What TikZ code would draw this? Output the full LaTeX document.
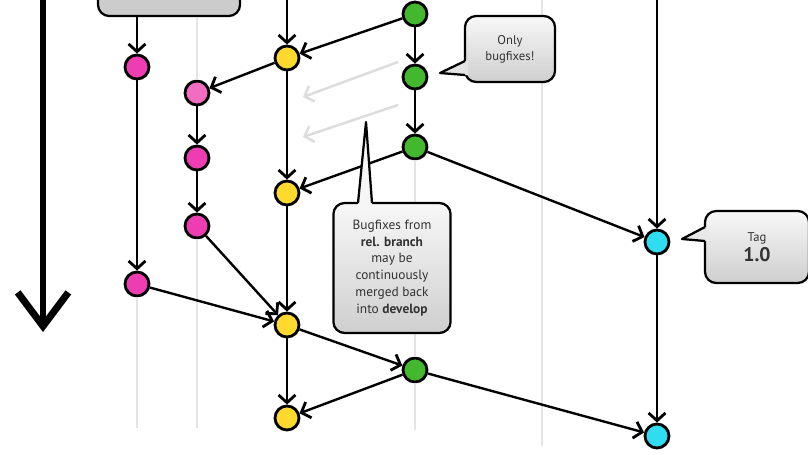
\documentclass[tikz,border=0pt]{standalone}
\usepackage{fontspec}
\setmainfont{PT Sans}
\usetikzlibrary{arrows.meta}

\definecolor{hotpink}{HTML}{EE3DB3}
\definecolor{featpink}{HTML}{F26CC2}
\definecolor{devyellow}{HTML}{FFD92E}
\definecolor{relgreen}{HTML}{43B82E}
\definecolor{tagcyan}{HTML}{30DDF0}
\definecolor{lanegray}{HTML}{E4E4E4}
\definecolor{ghostgray}{HTML}{DDDDDD}

\tikzset{
  commit/.style={circle, draw=black, line width=2pt, minimum size=0.6cm, inner sep=0pt},
  flow/.style={line width=1.7pt, -{Straight Barb[length=5.5pt,width=12pt,line width=2pt]}},
  lane/.style={lanegray, line width=2pt},
  ghost/.style={ghostgray, line width=1.8pt, -{Straight Barb[length=5.5pt,width=12pt,line width=1.8pt]}},
  note/.style={draw, line width=1.6pt, rounded corners=8pt, top color=gray!6, bottom color=gray!38,
    align=center, text=black!80, inner sep=2pt},
}

\begin{document}
\begin{tikzpicture}[x=0.025cm,y=-0.025cm]
\useasboundingbox (0,0) rectangle (808,454);
\clip (0,0) rectangle (808,454);

\coordinate (timetop) at (43,0);
\coordinate (timeend) at (43,332);
\draw[line width=4.5pt, -{Straight Barb[length=24pt,width=36pt,line width=5pt]}] (timetop) -- (timeend);

\node[note, fill=gray!40, top color=gray!40, bottom color=gray!40, minimum width=3.55cm, minimum height=1.65cm] (oldnote) at (169,-17) {};

\node[commit, fill=hotpink] (hot0) at (137,67) {};
\node[commit, fill=hotpink] (hot1) at (137,284) {};
\node[commit, fill=featpink] (feat0) at (197,93) {};
\node[commit, fill=hotpink] (feat1) at (197,158) {};
\node[commit, fill=hotpink] (feat2) at (197,226) {};
\node[commit, fill=devyellow] (dev0) at (287,58) {};
\node[commit, fill=devyellow] (dev1) at (287,193) {};
\node[commit, fill=devyellow] (dev2) at (287,325) {};
\node[commit, fill=devyellow] (dev3) at (287,418) {};
\node[commit, fill=relgreen] (rel0) at (415,14) {};
\node[commit, fill=relgreen] (rel1) at (415,77) {};
\node[commit, fill=relgreen] (rel2) at (415,147) {};
\node[commit, fill=relgreen] (rel3) at (415,370) {};
\node[commit, fill=tagcyan] (tag0) at (657,242) {};
\node[commit, fill=tagcyan] (tag1) at (657,436) {};

\coordinate (hotend) at (137,428);
\coordinate (featend) at (197,428);
\coordinate (relend) at (415,430);
\coordinate (sparetop) at (542,0);
\coordinate (spareend) at (542,446);
\draw[lane] (oldnote.south -| feat0) -- (feat0);
\draw[lane] (hot1) -- (hotend);
\draw[lane] (feat2) -- (featend);
\draw[lane] (rel2) -- (rel3);
\draw[lane] (rel3) -- (relend);
\draw[lane] (sparetop) -- (spareend);

\coordinate (ghostastart) at (398,62);
\coordinate (ghostaend) at (303,97);
\coordinate (ghostbstart) at (398,105);
\coordinate (ghostbend) at (303,137);
\draw[ghost] (ghostastart) -- (ghostaend);
\draw[ghost] (ghostbstart) -- (ghostbend);

\coordinate (devtop) at (287,0);
\coordinate (mastop) at (657,0);
\draw[flow] (oldnote.south -| hot0) -- (hot0);
\draw[flow] (hot0) -- (hot1);
\draw[flow] (hot1) -- (dev2);
\draw[flow] (devtop) -- (dev0);
\draw[flow] (dev0) -- (feat0);
\draw[flow] (feat0) -- (feat1);
\draw[flow] (feat1) -- (feat2);
\draw[flow] (feat2) -- (dev2);
\draw[flow] (dev0) -- (dev1);
\draw[flow] (dev1) -- (dev2);
\draw[flow] (dev2) -- (dev3);
\draw[flow] (rel0) -- (dev0);
\draw[flow] (rel0) -- (rel1);
\draw[flow] (rel1) -- (rel2);
\draw[flow] (rel2) -- (dev1);
\draw[flow] (rel2) -- (tag0);
\draw[flow] (dev2) -- (rel3);
\draw[flow] (rel3) -- (dev3);
\draw[flow] (rel3) -- (tag1);
\draw[flow] (mastop) -- (tag0);
\draw[flow] (tag0) -- (tag1);

\node[note, minimum width=2.25cm, minimum height=1.65cm, font=\fontsize{9}{11.5}\selectfont] (onlynote) at (510,49) {Only\\bugfixes!};
\fill[gray!22] (440,73) -- (465,61) -- (468,61) -- (468,75) -- (465,75) -- cycle;
\draw[line width=1.6pt, line join=round] (465,61) -- (440,73) -- (465,75);

\node[note, minimum width=2.93cm, minimum height=3.25cm, font=\fontsize{9.5}{12}\selectfont] (mergenote) at (392,268) {Bugfixes from\\\textbf{rel. branch}\\may be\\continuously\\merged back\\into \textbf{develop}};
\fill[gray!7] (366,122) -- (358,203) -- (358,206) -- (372,206) -- (372,203) -- cycle;
\draw[line width=1.6pt, line join=round] (358,203) -- (366,122) -- (372,203);

\node[note, minimum width=2.6cm, minimum height=1.8cm] (tagnote) at (757,247) {{\fontsize{9}{10}\selectfont Tag}\\[2pt]{\fontsize{14}{15}\selectfont\bfseries 1.0}};
\fill[gray!18] (682,239) -- (705,227) -- (708,227) -- (708,241) -- (705,241) -- cycle;
\draw[line width=1.6pt, line join=round] (705,227) -- (682,239) -- (705,241);

\end{tikzpicture}
\end{document}
